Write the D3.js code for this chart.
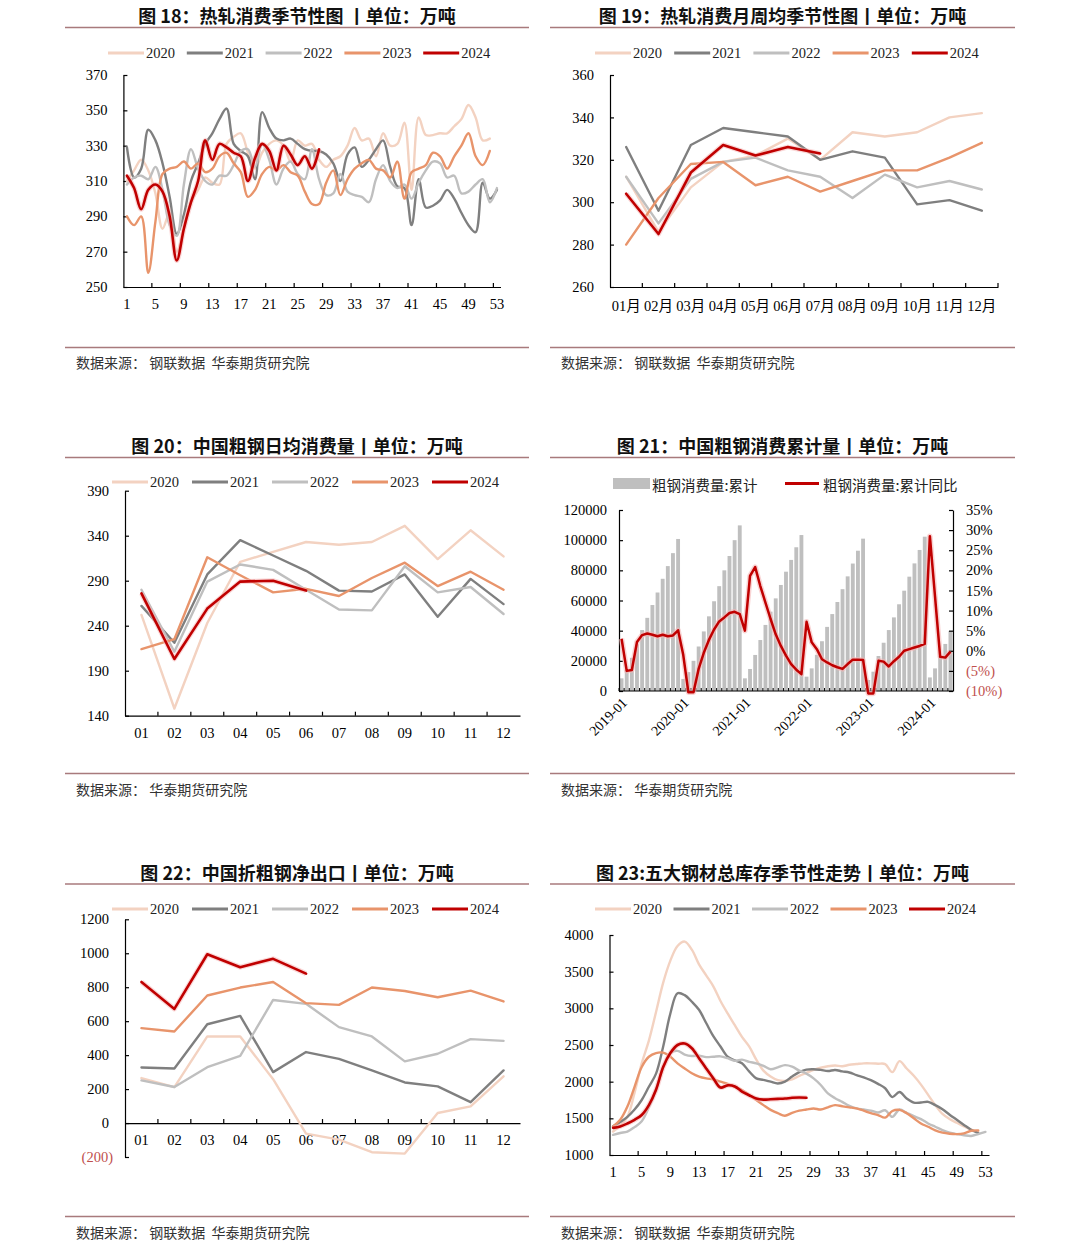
<!DOCTYPE html>
<html>
<head>
<meta charset="utf-8">
<script src="https://cdn.jsdelivr.net/npm/d3@7"></script>
<style>
  body { margin: 0; background: #fff; }
  svg { display: block; }
</style>
</head>
<body>
<svg id="fig" width="1080" height="1244"></svg>
<script>
// ---- shared categories ----
const seasonYears = ['2020', '2021', '2022', '2023', '2024'];
const weekTickLabels = [1, 5, 9, 13, 17, 21, 25, 29, 33, 37, 41, 45, 49, 53];
const monthLabelsCn = ['01月', '02月', '03月', '04月', '05月', '06月', '07月', '08月', '09月', '10月', '11月', '12月'];
const monthLabelsNum = ['01', '02', '03', '04', '05', '06', '07', '08', '09', '10', '11', '12'];

// ---- 图18 热轧消费季节性 (周, 万吨) ----
const hrcWeek2020 = [310, 316, 322, 316, 303, 283, 292, 270, 283, 298, 305, 312, 309, 308, 331, 335, 337, 326, 317, 326, 331, 333, 330, 321, 333, 330, 331, 322, 318, 322, 324, 330, 340, 333, 334, 324, 337, 330, 331, 343, 305, 346, 336, 336, 337, 337, 341, 345, 353, 346, 333, 334];
const hrcWeek2021 = [329, 312, 317, 339, 333, 320, 301, 280, 291, 310, 320, 331, 337, 345, 351, 331, 327, 324, 311, 349, 340, 334, 333, 334, 331, 328, 327, 327, 325, 320, 310, 325, 329, 318, 322, 328, 333, 318, 307, 306, 285, 311, 295, 296, 299, 305, 300, 292, 285, 281, 309, 300, 305];
const hrcWeek2022 = [308, 312, 313, 311, 318, 305, 285, 279, 308, 328, 317, 310, 308, 313, 313, 319, 327, 328, 318, 331, 322, 308, 317, 321, 314, 311, 328, 311, 302, 303, 314, 304, 302, 301, 298, 311, 319, 310, 306, 308, 300, 309, 316, 321, 320, 312, 313, 303, 304, 308, 311, 298, 306];
const hrcWeek2023 = [290, 285, 290, 258, 287, 314, 317, 318, 321, 317, 320, 315, 317, 324, 326, 320, 315, 301, 305, 314, 318, 316, 319, 315, 313, 304, 297, 297, 309, 316, 302, 311, 317, 320, 322, 317, 316, 312, 321, 300, 315, 317, 319, 326, 324, 317, 324, 330, 337, 324, 319, 327];
const hrcWeek2024 = [313, 306, 294, 305, 308, 304, 290, 265, 283, 298, 310, 333, 322, 331, 329, 326, 324, 310, 323, 331, 327, 316, 330, 325, 319, 324, 317, 328];

// ---- 图19 热轧消费月周均 (万吨) ----
const hrcMonth2020 = [312, 286, 307, 319, 322, 330, 320, 333, 331, 333, 340, 342];
const hrcMonth2021 = [326, 296, 327, 335, 333, 331, 320, 324, 321, 299, 301, 296];
const hrcMonth2022 = [312, 290, 311, 319, 321, 315, 312, 302, 313, 307, 310, 306];
const hrcMonth2023 = [280, 302, 318, 319, 308, 312, 305, 310, 315, 315, 321, 328];
const hrcMonth2024 = [304, 285, 314, 327, 322, 326, 323];

// ---- 图20 中国粗钢日均消费量 (万吨) ----
const dailyUse2020 = [252, 148, 243, 311, 322, 333, 330, 333, 351, 314, 346, 317];
const dailyUse2021 = [262, 221, 297, 335, 318, 301, 279, 278, 297, 250, 292, 264];
const dailyUse2022 = [280, 211, 289, 308, 302, 280, 258, 257, 306, 277, 283, 253];
const dailyUse2023 = [214, 225, 316, 296, 277, 281, 273, 293, 310, 284, 300, 280];
const dailyUse2024 = [276, 203, 259, 289, 290, 279];

// ---- 图21 中国粗钢消费累计量 (万吨) 与累计同比 (%) ----
const cumYears = ['2019', '2020', '2021', '2022', '2023', '2024'];
const cumUse2019 = [8400, 14000, 22000, 31000, 40400, 48500, 57000, 65300, 74400, 82800, 91400, 100800];
const cumUse2020 = [8000, 12500, 20000, 29500, 39500, 49500, 59500, 69500, 80000, 89500, 100000, 109800];
const cumUse2021 = [8400, 14600, 23900, 33800, 43800, 52600, 61400, 70300, 79100, 86900, 95300, 103400];
const cumUse2022 = [9500, 15000, 24000, 33000, 42500, 51000, 59000, 67500, 76000, 84500, 93000, 101000];
const cumUse2023 = [7300, 12800, 23200, 32000, 40400, 48800, 57500, 66500, 75800, 84600, 93500, 102300];
const cumUse2024 = [9000, 15000, 23000, 31200, 39800];
const cumYoy2019 = [3.0, -5.0, -4.8, 2.2, 3.9, 4.3, 4.0, 3.6, 4.0, 3.6, 3.8, 5.1];
const cumYoy2020 = [-1.0, -10.3, -10.3, -4.5, -0.5, 2.7, 5.3, 7.3, 8.3, 9.4, 9.7, 9.1];
const cumYoy2021 = [5.0, 18.6, 20.8, 16.1, 12.0, 7.9, 4.1, 1.2, -1.2, -3.3, -4.7, -5.8];
const cumYoy2022 = [7.2, 2.1, 0.4, -2.1, -2.9, -3.6, -4.1, -4.5, -3.3, -2.2, -2.2, -2.3];
const cumYoy2023 = [-10.6, -10.6, -2.5, -2.7, -3.9, -2.6, -1.5, 0.0, 0.4, 0.8, 1.2, 1.7];
const cumYoy2024 = [28.5, 13.5, -1.5, -1.7, -0.2];

// ---- 图22 中国折粗钢净出口 (万吨) ----
const netExport2020 = [265, 212, 510, 510, 258, -62, -98, -172, -180, 59, 98, 275];
const netExport2021 = [327, 321, 582, 631, 300, 418, 378, 310, 239, 216, 123, 310];
const netExport2022 = [251, 212, 329, 396, 725, 702, 565, 510, 363, 408, 494, 484];
const netExport2023 = [559, 539, 751, 798, 831, 706, 696, 798, 778, 741, 780, 716];
const netExport2024 = [831, 672, 994, 918, 967, 880];

// ---- 图23 五大钢材总库存 (周, 万吨) ----
const stock2020 = [1320, 1400, 1520, 1850, 2250, 2560, 2950, 3350, 3650, 3850, 3910, 3800, 3600, 3450, 3300, 3100, 2930, 2770, 2610, 2480, 2300, 2150, 2070, 2020, 2010, 2030, 2080, 2120, 2160, 2190, 2210, 2220, 2210, 2230, 2240, 2250, 2250, 2245, 2240, 2130, 2280, 2180, 2080, 1960, 1820, 1680, 1560, 1490, 1440, 1390, 1345, 1310];
const stock2021 = [1390, 1450, 1520, 1620, 1750, 1930, 2110, 2480, 2930, 3205, 3180, 3090, 2980, 2800, 2620, 2480, 2340, 2290, 2250, 2140, 2045, 2025, 2000, 1975, 2000, 2070, 2130, 2165, 2170, 2160, 2145, 2160, 2140, 2125, 2090, 2060, 2020, 1970, 1910, 1790, 1860, 1770, 1715, 1715, 1725, 1680, 1625, 1550, 1480, 1410, 1345, 1300];
const stock2022 = [1275, 1300, 1320, 1380, 1460, 1650, 1900, 2200, 2390, 2420, 2370, 2350, 2355, 2335, 2340, 2345, 2320, 2285, 2300, 2270, 2250, 2215, 2170, 2195, 2225, 2205, 2150, 2110, 2045, 1955, 1840, 1775, 1725, 1670, 1635, 1620, 1605, 1580, 1610, 1520, 1620, 1575, 1530, 1490, 1430, 1385, 1340, 1305, 1285, 1270, 1260, 1285, 1315];
const stock2023 = [1390, 1480, 1660, 1930, 2200, 2340, 2390, 2395, 2340, 2250, 2180, 2115, 2070, 2045, 2030, 2000, 1970, 1930, 1885, 1820, 1750, 1680, 1615, 1570, 1535, 1575, 1605, 1620, 1635, 1620, 1650, 1680, 1665, 1650, 1635, 1605, 1570, 1545, 1510, 1600, 1615, 1570, 1500, 1430, 1385, 1335, 1305, 1290, 1285, 1295, 1330, 1335];
const stock2024 = [1370, 1390, 1430, 1480, 1545, 1680, 1890, 2200, 2390, 2500, 2520, 2455, 2320, 2180, 2045, 1920, 1950, 1935, 1865, 1815, 1770, 1755, 1760, 1765, 1770, 1780, 1785, 1780];

// ---- drawing ----
const svg = d3.select('#fig');
const SERIF = '"Liberation Serif", "Times New Roman", serif';
const SERIF_CJK = '"Liberation Serif", "Noto Sans CJK SC", serif';
const SANS = '"Noto Sans CJK SC", "Noto Sans", sans-serif';
const RED_NEG = '#c0504d';
const yearColor = d3.scaleOrdinal()
  .domain(seasonYears)
  .range(['#f3d2c1', '#7f7f7f', '#bfbfbf', '#e8946b', '#c00000']);

function drawFrame(f) {
  const g = svg.append('g');
  g.append('text')
    .attr('x', (f.left + f.right) / 2)
    .attr('y', f.titleY)
    .attr('text-anchor', 'middle')
    .attr('dominant-baseline', 'central')
    .style('font-family', SANS)
    .style('font-weight', 700)
    .style('font-size', '18px')
    .attr('fill', '#111')
    .text(f.title);
  [f.ruleY, f.footRuleY].forEach(ry => {
    g.append('line')
      .attr('x1', f.left).attr('x2', f.right)
      .attr('y1', ry).attr('y2', ry)
      .attr('stroke', '#a87a7c')
      .attr('stroke-width', 1.6);
  });
  g.append('text')
    .attr('x', f.left + 11)
    .attr('y', f.footY)
    .attr('dominant-baseline', 'central')
    .style('font-family', SANS)
    .style('font-size', '14px')
    .style('white-space', 'pre')
    .attr('fill', '#333')
    .text(f.source);
}

function styleAxis(sel, font) {
  sel.select('.domain').attr('stroke', '#000').attr('stroke-width', 1.2);
  sel.selectAll('.tick line').attr('stroke', '#000').attr('stroke-width', 1.2);
  sel.selectAll('.tick text')
    .style('font-family', font || SERIF)
    .style('font-size', '14.5px')
    .attr('fill', '#000');
}

function drawLegend(g, x0, step, y) {
  seasonYears.forEach((n, i) => {
    const lx = x0 + i * step;
    g.append('line')
      .attr('x1', lx).attr('x2', lx + 36)
      .attr('y1', y).attr('y2', y)
      .attr('stroke', yearColor(n))
      .attr('stroke-width', 2.8);
    g.append('text')
      .attr('x', lx + 38).attr('y', y)
      .attr('dominant-baseline', 'central')
      .style('font-family', SERIF)
      .style('font-size', '14.5px')
      .attr('fill', '#222')
      .text(n);
  });
}

function drawSeasonal(c) {
  const g = svg.append('g');
  const x = d3.scaleBand().domain(c.cats).range([c.x0, c.x1]);
  const y = d3.scaleLinear().domain(c.domain).range([c.yBot, c.yTop]);
  const cx = d => x(d) + x.bandwidth() / 2;
  const axisY = c.domain[0] < 0 ? y(0) : c.yBot;

  // y axis, ticks pointing inward
  const yAxis = g.append('g')
    .attr('transform', `translate(${c.x0},0)`)
    .call(d3.axisLeft(y).tickValues(c.yTicks).tickSize(-4).tickSizeOuter(0)
      .tickPadding(16).tickFormat(c.yFmt || d3.format('d')))
    .call(styleAxis);
  yAxis.selectAll('.tick text')
    .filter(d => d < 0)
    .attr('fill', RED_NEG)
    .attr('x', -12);

  // x axis labels at band centres
  g.append('g')
    .attr('transform', `translate(0,${axisY})`)
    .call(d3.axisBottom(x).tickValues(c.labelCats).tickSize(0).tickSizeOuter(0)
      .tickPadding(c.xPad || 12).tickFormat(c.xFmt || (d => d)))
    .call(sel => styleAxis(sel, c.xFont));

  // tick marks at band boundaries
  g.selectAll('line.btick')
    .data(c.tickCats)
    .join('line')
    .attr('class', 'btick')
    .attr('x1', d => d === 'end' ? c.x1 : x(d))
    .attr('x2', d => d === 'end' ? c.x1 : x(d))
    .attr('y1', axisY)
    .attr('y2', axisY - 4)
    .attr('stroke', '#000')
    .attr('stroke-width', 1.2);

  const line = d3.line()
    .x((v, i) => cx(c.cats[i]))
    .y(v => y(v))
    .curve(c.curve || d3.curveLinear);

  c.series.forEach((vals, k) => {
    const name = seasonYears[k];
    if (name === '2024') {
      g.append('path')
        .datum(vals)
        .attr('d', line)
        .attr('fill', 'none')
        .attr('stroke', '#f5b8b8')
        .attr('stroke-width', 5)
        .attr('stroke-opacity', 0.55)
        .attr('stroke-linejoin', 'round');
    }
    g.append('path')
      .datum(vals)
      .attr('d', line)
      .attr('fill', 'none')
      .attr('stroke', yearColor(name))
      .attr('stroke-width', name === '2024' ? 2.6 : 2.4)
      .attr('stroke-linejoin', 'round')
      .attr('stroke-linecap', 'round');
  });

  drawLegend(g, c.legendX, c.legendStep, c.legendY);
}

// frames
const L = { left: 65, right: 529 };
const R = { left: 550, right: 1015 };
const rowTop = { titleY: 15, ruleY: 27.5, footRuleY: 347.5, footY: 362 };
const rowMid = { titleY: 445, ruleY: 457.5, footRuleY: 773.5, footY: 789 };
const rowBot = { titleY: 872, ruleY: 884, footRuleY: 1216.5, footY: 1232 };
const srcBoth = '数据来源： 钢联数据  华泰期货研究院';
const srcHt = '数据来源： 华泰期货研究院';

drawFrame({ ...L, ...rowTop, title: '图 18：热轧消费季节性图  丨单位：万吨', source: srcBoth });
drawFrame({ ...R, ...rowTop, title: '图 19：热轧消费月周均季节性图丨单位：万吨', source: srcBoth });
drawFrame({ ...L, ...rowMid, title: '图 20：中国粗钢日均消费量丨单位：万吨', source: srcHt });
drawFrame({ ...R, ...rowMid, title: '图 21：中国粗钢消费累计量丨单位：万吨', source: srcHt });
drawFrame({ ...L, ...rowBot, title: '图 22：中国折粗钢净出口丨单位：万吨', source: srcBoth });
drawFrame({ ...R, ...rowBot, title: '图 23:五大钢材总库存季节性走势丨单位：万吨', source: srcBoth });

const weeks = d3.range(1, 54);
const weekBoundaryTicks = weekTickLabels.slice(1);

// 图18
drawSeasonal({
  cats: weeks, x0: 123.4, x1: 500.5, yTop: 75, yBot: 287,
  domain: [250, 370], yTicks: [250, 270, 290, 310, 330, 350, 370],
  labelCats: weekTickLabels, tickCats: weekBoundaryTicks,
  curve: d3.curveCatmullRom,
  series: [hrcWeek2020, hrcWeek2021, hrcWeek2022, hrcWeek2023, hrcWeek2024],
  legendX: 108, legendStep: 78.8, legendY: 53
});

// 图19
drawSeasonal({
  cats: monthLabelsCn, x0: 610, x1: 998, yTop: 75, yBot: 287,
  domain: [260, 360], yTicks: [260, 280, 300, 320, 340, 360],
  labelCats: monthLabelsCn, tickCats: monthLabelsCn.slice(1).concat(['end']),
  xFont: SERIF_CJK, xPad: 14,
  series: [hrcMonth2020, hrcMonth2021, hrcMonth2022, hrcMonth2023, hrcMonth2024],
  legendX: 595, legendStep: 79.2, legendY: 53
});

// 图20
drawSeasonal({
  cats: monthLabelsNum, x0: 125, x1: 520, yTop: 490.7, yBot: 715.7,
  domain: [140, 390], yTicks: [140, 190, 240, 290, 340, 390],
  labelCats: monthLabelsNum, tickCats: monthLabelsNum.slice(1),
  series: [dailyUse2020, dailyUse2021, dailyUse2022, dailyUse2023, dailyUse2024],
  legendX: 112, legendStep: 80, legendY: 482
});

// 图22
drawSeasonal({
  cats: monthLabelsNum, x0: 125, x1: 520, yTop: 919.3, yBot: 1157,
  domain: [-200, 1200], yTicks: [-200, 0, 200, 400, 600, 800, 1000, 1200],
  yFmt: d => d < 0 ? `(${-d})` : d,
  labelCats: monthLabelsNum, tickCats: monthLabelsNum.slice(1),
  series: [netExport2020, netExport2021, netExport2022, netExport2023, netExport2024],
  legendX: 112, legendStep: 80, legendY: 909
});

// 图23
drawSeasonal({
  cats: weeks, x0: 609.5, x1: 989, yTop: 935, yBot: 1155,
  domain: [1000, 4000], yTicks: [1000, 1500, 2000, 2500, 3000, 3500, 4000],
  labelCats: weekTickLabels, tickCats: weekBoundaryTicks,
  curve: d3.curveCatmullRom,
  series: [stock2020, stock2021, stock2022, stock2023, stock2024],
  legendX: 595, legendStep: 78.5, legendY: 909
});

// 图21 — bars (累计) + line (累计同比, right axis)
(function drawCumulative() {
  const cumByYear = [cumUse2019, cumUse2020, cumUse2021, cumUse2022, cumUse2023, cumUse2024];
  const yoyByYear = [cumYoy2019, cumYoy2020, cumYoy2021, cumYoy2022, cumYoy2023, cumYoy2024];
  const rows = [];
  cumYears.forEach((yr, k) => {
    cumByYear[k].forEach((v, i) => {
      rows.push({ month: `${yr}-${monthLabelsNum[i]}`, cum: v, yoy: yoyByYear[k][i] });
    });
  });

  const g = svg.append('g');
  const x = d3.scaleBand().domain(rows.map(d => d.month)).range([619, 953])
    .paddingInner(0.25).paddingOuter(0.125);
  const yL = d3.scaleLinear().domain([0, 120000]).range([691, 510]);
  const yR = d3.scaleLinear().domain([-10, 35]).range([691, 510]);
  const cx = d => x(d) + x.bandwidth() / 2;

  g.selectAll('rect.bar')
    .data(rows)
    .join('rect')
    .attr('class', 'bar')
    .attr('x', d => x(d.month))
    .attr('width', x.bandwidth())
    .attr('y', d => yL(d.cum))
    .attr('height', d => yL(0) - yL(d.cum))
    .attr('fill', '#bfbfbf');

  g.append('g')
    .attr('transform', 'translate(619,0)')
    .call(d3.axisLeft(yL).ticks(6).tickSize(-4).tickSizeOuter(0).tickPadding(12).tickFormat(d3.format('d')))
    .call(styleAxis);

  const rAxis = g.append('g')
    .attr('transform', 'translate(953,0)')
    .call(d3.axisRight(yR).tickValues([-10, -5, 0, 5, 10, 15, 20, 25, 30, 35]).tickSize(-4)
      .tickSizeOuter(0).tickPadding(13).tickFormat(d => d < 0 ? `(${-d}%)` : `${d}%`))
    .call(styleAxis);
  rAxis.selectAll('.tick text').filter(d => d < 0).attr('fill', RED_NEG);

  // bottom axis line + monthly ticks
  g.append('line')
    .attr('x1', 619).attr('x2', 953).attr('y1', 691).attr('y2', 691)
    .attr('stroke', '#000').attr('stroke-width', 1.2);
  g.selectAll('line.mtick')
    .data(rows)
    .join('line')
    .attr('class', 'mtick')
    .attr('x1', d => x(d.month) - x.step() * 0.125)
    .attr('x2', d => x(d.month) - x.step() * 0.125)
    .attr('y1', 691).attr('y2', 688)
    .attr('stroke', '#000').attr('stroke-width', 1);

  // rotated year labels
  g.selectAll('text.xl')
    .data(rows.filter(d => d.month.endsWith('-01')))
    .join('text')
    .attr('class', 'xl')
    .attr('transform', d => `translate(${cx(d.month) + 3},${700}) rotate(-45)`)
    .attr('text-anchor', 'end')
    .attr('dy', '0.35em')
    .style('font-family', SERIF)
    .style('font-size', '14px')
    .attr('fill', '#000')
    .text(d => d.month);

  const line = d3.line().x(d => cx(d.month)).y(d => yR(d.yoy));
  g.append('path').datum(rows).attr('d', line)
    .attr('fill', 'none').attr('stroke', '#f5b8b8').attr('stroke-width', 5.5)
    .attr('stroke-opacity', 0.6).attr('stroke-linejoin', 'round');
  g.append('path').datum(rows).attr('d', line)
    .attr('fill', 'none').attr('stroke', '#c00000').attr('stroke-width', 2.5)
    .attr('stroke-linejoin', 'round');

  // legend
  g.append('rect').attr('x', 613).attr('y', 478).attr('width', 37).attr('height', 11).attr('fill', '#bfbfbf');
  g.append('text').attr('x', 652).attr('y', 484).attr('dominant-baseline', 'central')
    .style('font-family', SANS).style('font-size', '14.5px').attr('fill', '#222')
    .text('粗钢消费量:累计');
  g.append('line').attr('x1', 785).attr('x2', 819).attr('y1', 483.5).attr('y2', 483.5)
    .attr('stroke', '#c00000').attr('stroke-width', 2.8);
  g.append('text').attr('x', 823).attr('y', 484).attr('dominant-baseline', 'central')
    .style('font-family', SANS).style('font-size', '14.5px').attr('fill', '#222')
    .text('粗钢消费量:累计同比');
})();
</script>
</body>
</html>
